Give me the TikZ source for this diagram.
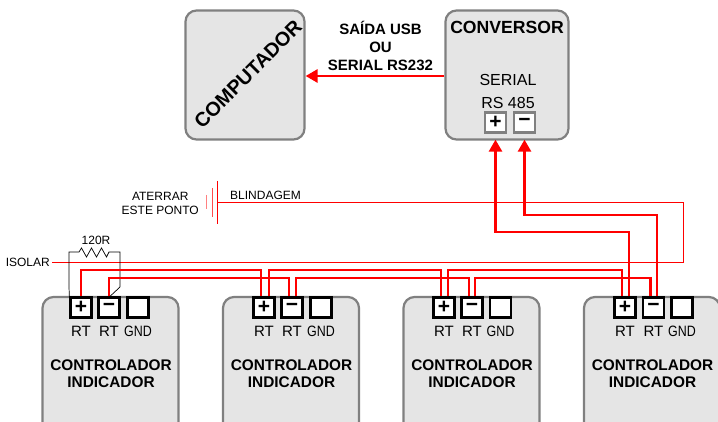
\documentclass[tikz,border=0pt]{standalone}
\usepackage{fontspec}
\setmainfont{Liberation Sans}
\usetikzlibrary{arrows.meta,decorations.pathmorphing,calc}
\definecolor{boxfill}{RGB}{229,229,229}
\definecolor{boxline}{RGB}{128,128,128}
\tikzset{
 panel/.style={draw=boxline,fill=boxfill,line width=2.2pt,rounded corners=11pt,minimum width=#1,minimum height=129pt,inner sep=0pt},
 term/.style={draw=black,fill=white,line width=2.3pt,minimum width=21pt,minimum height=20pt,inner sep=0pt,font=\bfseries\fontsize{21}{21}\selectfont},
 cterm/.style={term,draw=boxline},
 wire/.style={draw=red,line width=2.7pt},
 thinwire/.style={draw=red,line width=0.6pt},
 lbl/.style={inner sep=0pt,align=center,font=\fontsize{14}{15.5}\selectfont},
 blbl/.style={inner sep=0pt,align=center,font=\bfseries\fontsize{15.4}{17}\selectfont},
 sm/.style={inner sep=0pt,align=center,font=\fontsize{12}{14.5}\selectfont},
 rtl/.style={inner sep=0pt,font=\fontsize{15}{15}\selectfont},
 gndl/.style={inner sep=0pt,font=\fontsize{15}{15}\selectfont,xscale=.83},
}
\begin{document}
\begin{tikzpicture}[x=1pt,y=-1pt]
\useasboundingbox (0,0) rectangle (718,422);
% top boxes
\node[panel=119pt] (comp) at (245,75) {};
\node[blbl,font=\bfseries\fontsize{19.8}{20}\selectfont,rotate=45] (compt) at (248,74) {COMPUTADOR};
\node[panel=123pt] (conv) at (507,75) {};
\node[blbl,font=\bfseries\fontsize{17.6}{18}\selectfont] (convt) at (507,27) {CONVERSOR};
\node[lbl,font=\fontsize{16}{23}\selectfont] (ser) at (508,91) {SERIAL\\RS 485};
\node[cterm] (cp) at (495.5,122.5) {+};
\node[cterm] (cm) at (524.5,122.5) {−};
\node[blbl,font=\bfseries\fontsize{15}{18}\selectfont] (usb) at (380.5,46) {SAÍDA USB\\OU\\SERIAL RS232};
% controllers
\foreach \n/\x/\tp/\tm/\tg in {1/110.5/81/109/138,2/291/264/292/321,3/471.5/444/472/500.5,4/652/625/653.5/682}{
 \node[panel=136pt,minimum height=140pt] (ctl\n) at (\x,367) {};
 \node[term] (p\n) at (\tp,307.5) {+};
 \node[term] (m\n) at (\tm,307.5) {−};
 \node[term] (g\n) at (\tg,307.5) {};
 \node[rtl] (rp\n) at (\tp,331) {RT};
 \node[rtl] (rm\n) at (\tm,331) {RT};
 \node[gndl] (rg\n) at (\tg,331) {GND};
 \node[blbl] (name\n) at (\x+.5,374) {CONTROLADOR\\INDICADOR};
}
\useasboundingbox (0,0) rectangle (718,422);
% thin shield wire
\node[sm,anchor=east] (isol) at (50,262) {ISOLAR};
\node[sm,anchor=east] (aterr) at (199,203.5) {ATERRAR\\ESTE PONTO};
\node[sm,anchor=west] (blind) at (230,195) {BLINDAGEM};
\coordinate (gnd) at (217,202.5);
\draw[thinwire] (gnd) -- (683,202.5) -- (683,262) -- ([xshift=2pt]isol.east);
\draw[red,line width=0.9pt] (217,181) -- (217,224);
\draw[red!70,line width=0.9pt] (212,188) -- (212,217);
\draw[red!50,line width=0.9pt] (206,195) -- (206,209);
% resistor
\node[sm] (rlab) at (96,240) {120R};
\draw[black,line width=0.7pt] (p1.north west) -- (69,287) -- (69,252) -- (79,252)
 -- (81.5,248) -- (86.5,257) -- (91.5,248) -- (96.5,257) -- (101.5,248) -- (106.5,257) -- (109,252)
 -- (120,252) -- (120,287) -- ([xshift=1pt]m1.north);
% daisy chain
\draw[wire] (p1.north) -- (81,270) -| ([xshift=-3pt]p2.north);
\draw[wire] ([xshift=5pt]p2.north) -- (269,270) -| ([xshift=-3pt]p3.north);
\draw[wire] ([xshift=4pt]p3.north) -- (448,270) -| ([xshift=-3pt]p4.north);
\draw[wire] (m1.north) -- (109,278) -| ([xshift=-3pt]m2.north);
\draw[wire] ([xshift=4pt]m2.north) -- (296,278) -| ([xshift=-3pt]m3.north);
\draw[wire] ([xshift=3pt]m3.north) -- (475,278) -| ([xshift=-3pt]m4.north);
% to converter
\draw[wire,-{Triangle[length=12pt,width=13pt]}] ([xshift=4pt]p4.north) -- (629,232) -| ([yshift=-6pt]cp.south);
\draw[wire,-{Triangle[length=12pt,width=13pt]}] ([xshift=3.5pt]m4.north) -- (657,215) -| ([yshift=-6pt]cm.south);
\draw[wire,-{Triangle[length=12pt,width=13pt]}] (conv.west |- 0,76) -- (comp.east |- 0,76);
\end{tikzpicture}
\end{document}
